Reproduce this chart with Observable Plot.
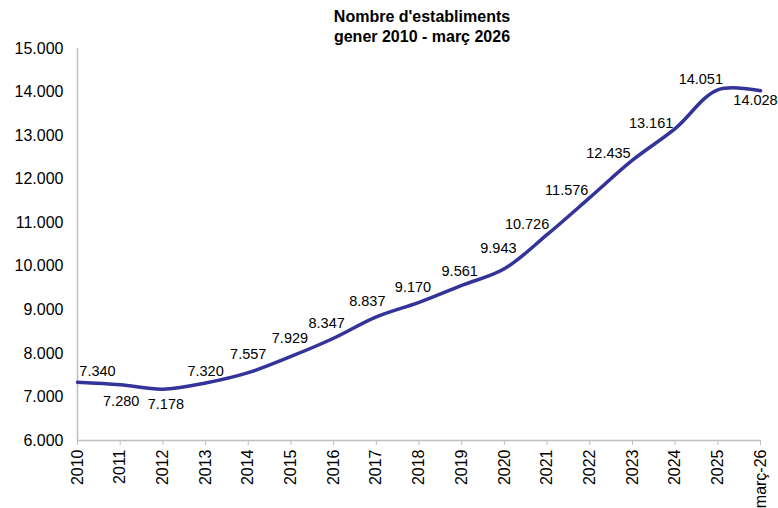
<!DOCTYPE html>
<html>
<head>
<meta charset="utf-8">
<script src="https://cdn.jsdelivr.net/npm/d3@7"></script>
<script src="https://cdn.jsdelivr.net/npm/@observablehq/plot@0.6"></script>
<style>
  body { margin: 0; background: #fff; font-family: "Liberation Sans", Arial, sans-serif; }
  #title { width: 778px; box-sizing: border-box; padding-left: 66px; padding-top: 7px; height: 46px;
           text-align: center; font-weight: bold; font-size: 16px; line-height: 20px; color: #000; }
</style>
</head>
<body>
<div id="title">Nombre d'establiments<br>gener 2010 - març 2026</div>
<div id="chart"></div>
<script>
const categories = ["2010","2011","2012","2013","2014","2015","2016","2017","2018","2019","2020","2021","2022","2023","2024","2025","març-26"];
const values = [7340,7280,7178,7320,7557,7929,8347,8837,9170,9561,9943,10726,11576,12435,13161,14051,14028];
const yTicks = [6000,7000,8000,9000,10000,11000,12000,13000,14000,15000];

// label nudges in pixels (layout only)
const labelNudge = [[20,-11],[1,17],[3,15],[0,-12],[0,-18],[-1,-18],[-7,-15],[-9,-16],[-6,-15],[-2,-14],
                    [-6,-20],[-20,-10],[-23,-7],[-24,-7],[-24,-5],[-17,-10],[-5,10]];

const data = categories.map((c, i) => ({cat: c, value: values[i], i}));
const fmt = v => d3.format(",")(v).replace(/,/g, ".");

const axisGray = "#bfbfbf";
const lineColor = "#333399";

const labelMarks = data.map(d => Plot.text([d], {
  x: "cat", y: "value", text: d => fmt(d.value),
  dx: labelNudge[d.i][0], dy: labelNudge[d.i][1],
  fontSize: 14.5, fill: "#000"
}));

const chart = Plot.plot({
  width: 778,
  height: 462,
  marginLeft: 77,
  marginRight: 18,
  marginTop: 2,
  marginBottom: 68,
  style: {fontFamily: "Liberation Sans, Arial, sans-serif", fontSize: "16px", color: "#000", background: "transparent", overflow: "visible"},
  x: {type: "point", domain: categories, padding: 0, inset: 0, round: false, label: null},
  y: {domain: [6000, 15000], label: null},
  marks: [
    Plot.ruleY([6000], {stroke: axisGray, strokeWidth: 1.5}),
    Plot.ruleX(["2010"], {stroke: axisGray, strokeWidth: 1.5}),
    Plot.ruleY(yTicks, {y: d => d, x1: "2010", x2: "2010", insetLeft: -5, stroke: axisGray}),
    Plot.ruleX(categories, {x: d => d, y1: 6000, y2: 6000, insetBottom: -5, stroke: axisGray}),
    Plot.axisY({ticks: yTicks, tickSize: 0, tickPadding: 14, tickFormat: fmt, fontSize: 16, fill: "#000"}),
    Plot.axisX({tickSize: 0, tickPadding: 9, tickRotate: -90, fontSize: 16, fill: "#000"}),
    Plot.line(data, {x: "cat", y: "value", stroke: lineColor, strokeWidth: 3.5, curve: "catmull-rom"}),
    ...labelMarks
  ]
});
document.getElementById("chart").appendChild(chart);
</script>
</body>
</html>
